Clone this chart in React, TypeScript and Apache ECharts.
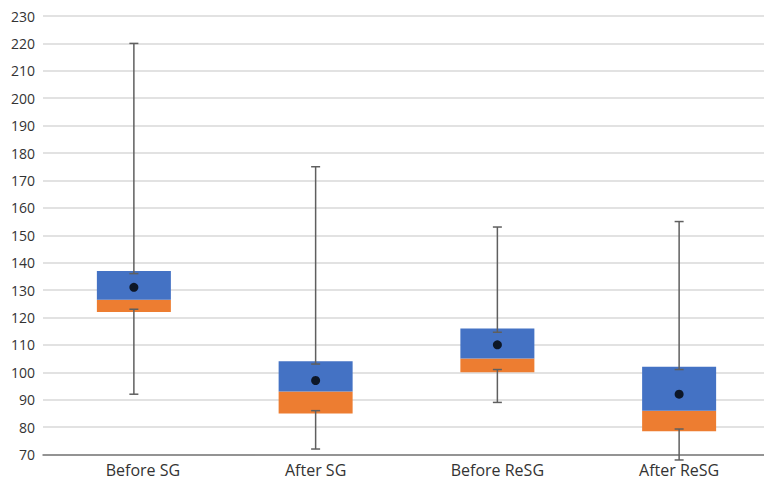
import React, { useEffect, useRef } from "react";
import * as echarts from "echarts";

const categories = ["Before SG", "After SG", "Before ReSG", "After ReSG"];
const maxVals = [220, 175, 153, 155];
const upperInner = [136, 103, 114.6, 101];
const q3Vals = [137, 104, 116, 102];
const medianVals = [126.5, 93, 105, 86];
const q1Vals = [122, 85, 100, 78.5];
const lowerInner = [123, 86, 101, 79.3];
const minVals = [92, 72, 89, 68];
const meanVals = [131, 97, 110, 92];
const yTicks = { min: 70, max: 230, interval: 10 };

export default function App() {
  const ref = useRef<HTMLDivElement>(null);
  useEffect(() => {
    if (!ref.current) return;
    const chart = echarts.init(ref.current, null, { renderer: "svg" });
    const boxData = categories.map((_, i) => [
      i,
      minVals[i],
      lowerInner[i],
      q1Vals[i],
      medianVals[i],
      q3Vals[i],
      upperInner[i],
      maxVals[i],
    ]);
    chart.setOption({
      animation: false,
      grid: {
        left: 43,
        top: 16,
        width: 727,
        bottom: 35.5,
        containLabel: false,
        outerBoundsMode: "none",
      },
      xAxis: {
        type: "category",
        data: categories,
        axisLine: { show: true, lineStyle: { color: "#7a7a7a", width: 1.5 } },
        axisTick: { show: false },
        axisLabel: {
          color: "#333",
          fontFamily: "Open Sans",
          fontSize: 16,
          margin: 7,
          formatter: (v: string, i: number) => (i === 0 ? "{a|" + v + "}" : v),
          rich: {
            a: {
              color: "#333",
              fontFamily: "Open Sans",
              fontSize: 16,
              padding: [0, 0, 0, 18],
            },
          },
        },
      },
      yAxis: {
        type: "value",
        min: yTicks.min,
        max: yTicks.max,
        interval: yTicks.interval,
        axisLine: { show: false },
        axisTick: { show: false },
        splitLine: { lineStyle: { color: "#d9d9d9", width: 1.5 } },
        axisLabel: {
          color: "#333",
          fontFamily: "Open Sans",
          fontSize: 14,
          margin: 8,
        },
      },
      series: [
        {
          type: "custom",
          clip: false,
          data: boxData,
          encode: { x: 0, y: [1, 2, 3, 4, 5, 6, 7] },
          renderItem: (params: any, api: any) => {
            const x = api.value(0);
            const vMin = api.value(1);
            const vLi = api.value(2);
            const vQ1 = api.value(3);
            const vMed = api.value(4);
            const vQ3 = api.value(5);
            const vUi = api.value(6);
            const vMax = api.value(7);
            const cx = api.coord([x, vMed])[0];
            const y = (v: number) => api.coord([x, v])[1];
            const bw = 74;
            const cw = 9;
            const wStyle = { stroke: "#5f5f5f", lineWidth: 1.5 };
            const cap = (v: number) => ({
              type: "line",
              shape: { x1: cx - cw / 2, y1: y(v), x2: cx + cw / 2, y2: y(v) },
              style: wStyle,
            });
            return {
              type: "group",
              children: [
                {
                  type: "rect",
                  shape: { x: cx - bw / 2, y: y(vMed), width: bw, height: y(vQ1) - y(vMed) },
                  style: { fill: "#ED7D31" },
                },
                {
                  type: "rect",
                  shape: { x: cx - bw / 2, y: y(vQ3), width: bw, height: y(vMed) - y(vQ3) },
                  style: { fill: "#4472C4" },
                },
                {
                  type: "line",
                  shape: { x1: cx, y1: y(vMax), x2: cx, y2: y(vUi) },
                  style: wStyle,
                },
                cap(vMax),
                cap(vUi),
                {
                  type: "line",
                  shape: { x1: cx, y1: y(vLi), x2: cx, y2: y(vMin) },
                  style: wStyle,
                },
                cap(vLi),
                cap(vMin),
              ],
            };
          },
          z: 2,
        },
        {
          type: "scatter",
          data: meanVals.map((v, i) => [i, v]),
          symbol: "circle",
          symbolSize: 9,
          itemStyle: { color: "#000" },
          z: 5,
        },
      ],
    });
    return () => chart.dispose();
  }, []);
  return (
    <div
      ref={ref}
      style={{ position: "fixed", left: 0, top: 0, width: 764, height: 490, background: "#fff" }}
    />
  );
}
